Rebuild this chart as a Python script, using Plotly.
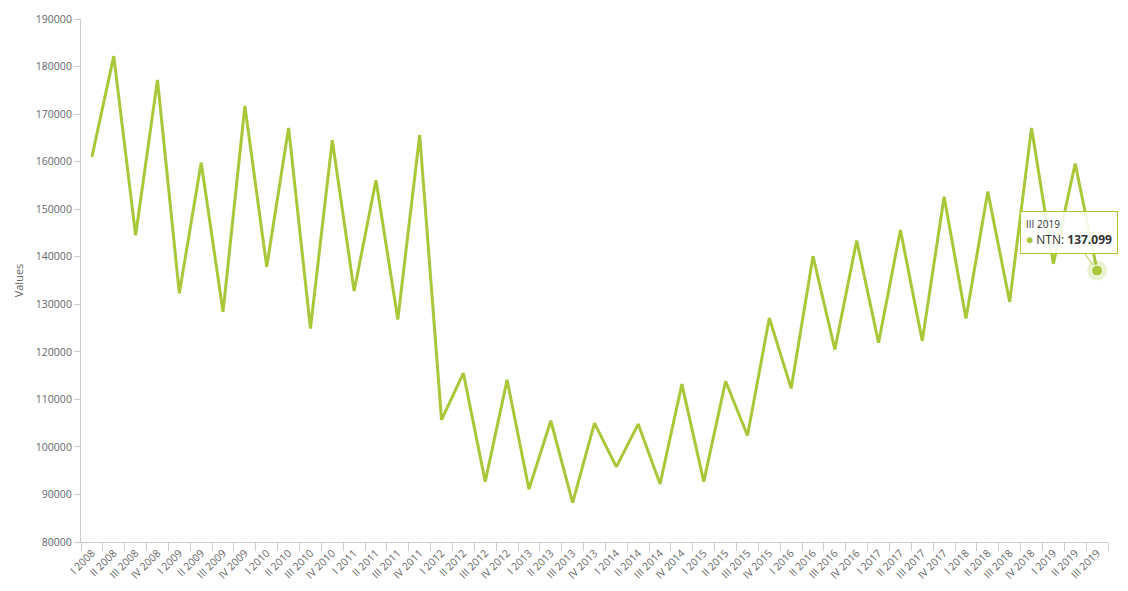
import plotly.graph_objects as go

quarters = []
for year in range(2008, 2020):
    for q in ["I", "II", "III", "IV"]:
        quarters.append(q + " " + str(year))
quarters = quarters[:47]

ntn_values = [161000, 182200, 144500, 177200, 132300, 159800, 128400, 171700,
              137900, 167100, 124900, 164500, 132800, 156100, 126800, 165600,
              105700, 115500, 92700, 114100, 91100, 105500, 88300, 105000,
              95800, 104800, 92200, 113200, 92700, 113800, 102400, 127100,
              112300, 140100, 120500, 143400, 121900, 145600, 122300, 152600,
              127000, 153700, 130500, 167100, 138500, 159600, 137099]

series_name = "NTN"
line_color = "#a8c83a"
axis_color = "#cccccc"
font_family = "Open Sans, Lato, sans-serif"

fig = go.Figure()

fig.add_trace(go.Scatter(x=quarters, y=ntn_values, mode="lines", name=series_name,
                         line=dict(color=line_color, width=3), hoverinfo="skip"))

# hovered point (last one) with halo
fig.add_trace(go.Scatter(x=[quarters[-1]], y=[ntn_values[-1]], mode="markers",
                         marker=dict(size=20, color="rgba(168,200,58,0.25)"),
                         hoverinfo="skip"))
fig.add_trace(go.Scatter(x=[quarters[-1]], y=[ntn_values[-1]], mode="markers",
                         marker=dict(size=11, color=line_color,
                                     line=dict(color="white", width=1)),
                         hoverinfo="skip"))

last_label = f"{ntn_values[-1]:,}".replace(",", ".")
fig.add_annotation(
    x=quarters[-1], y=ntn_values[-1],
    text=("<span style='font-size:10px;color:#333'>" + quarters[-1] + "</span><br>"
          + "<span style='color:" + line_color + "'>●</span> "
          + "<span style='font-size:12px;color:#333'>" + series_name + ": <b>" + last_label + "</b></span>"),
    align="left", showarrow=True, arrowhead=0, arrowwidth=1, arrowcolor=line_color,
    ax=-28, ay=-38, standoff=7,
    bgcolor="rgba(255,255,255,0.88)", bordercolor=line_color, borderwidth=1, borderpad=5,
    font=dict(family=font_family, size=12, color="#333"),
)

fig.update_layout(
    width=1128, height=591,
    margin=dict(l=73, r=28, t=11, b=57),
    paper_bgcolor="white", plot_bgcolor="white",
    showlegend=False,
    font=dict(family=font_family, size=10, color="#666"),
    hovermode=False,
)

fig.update_xaxes(
    type="category", range=[-0.5, len(quarters) - 0.5], automargin=False,
    tickangle=-45, tickson="boundaries", ticks="outside", ticklen=8,
    tickcolor=axis_color, showline=True, linecolor=axis_color, linewidth=1,
    showgrid=False, zeroline=False,
    tickfont=dict(size=10.5, color="#666"),
)

fig.update_yaxes(
    range=[80000, 190000], dtick=10000, tickformat="d", automargin=False,
    ticks="outside", ticklen=6, tickcolor=axis_color,
    showline=True, linecolor=axis_color, linewidth=1,
    showgrid=False, zeroline=False,
    title=dict(text="Values", font=dict(size=11, color="#666"), standoff=10),
    tickfont=dict(size=10.5, color="#666"),
)

fig.write_html("out.html")
